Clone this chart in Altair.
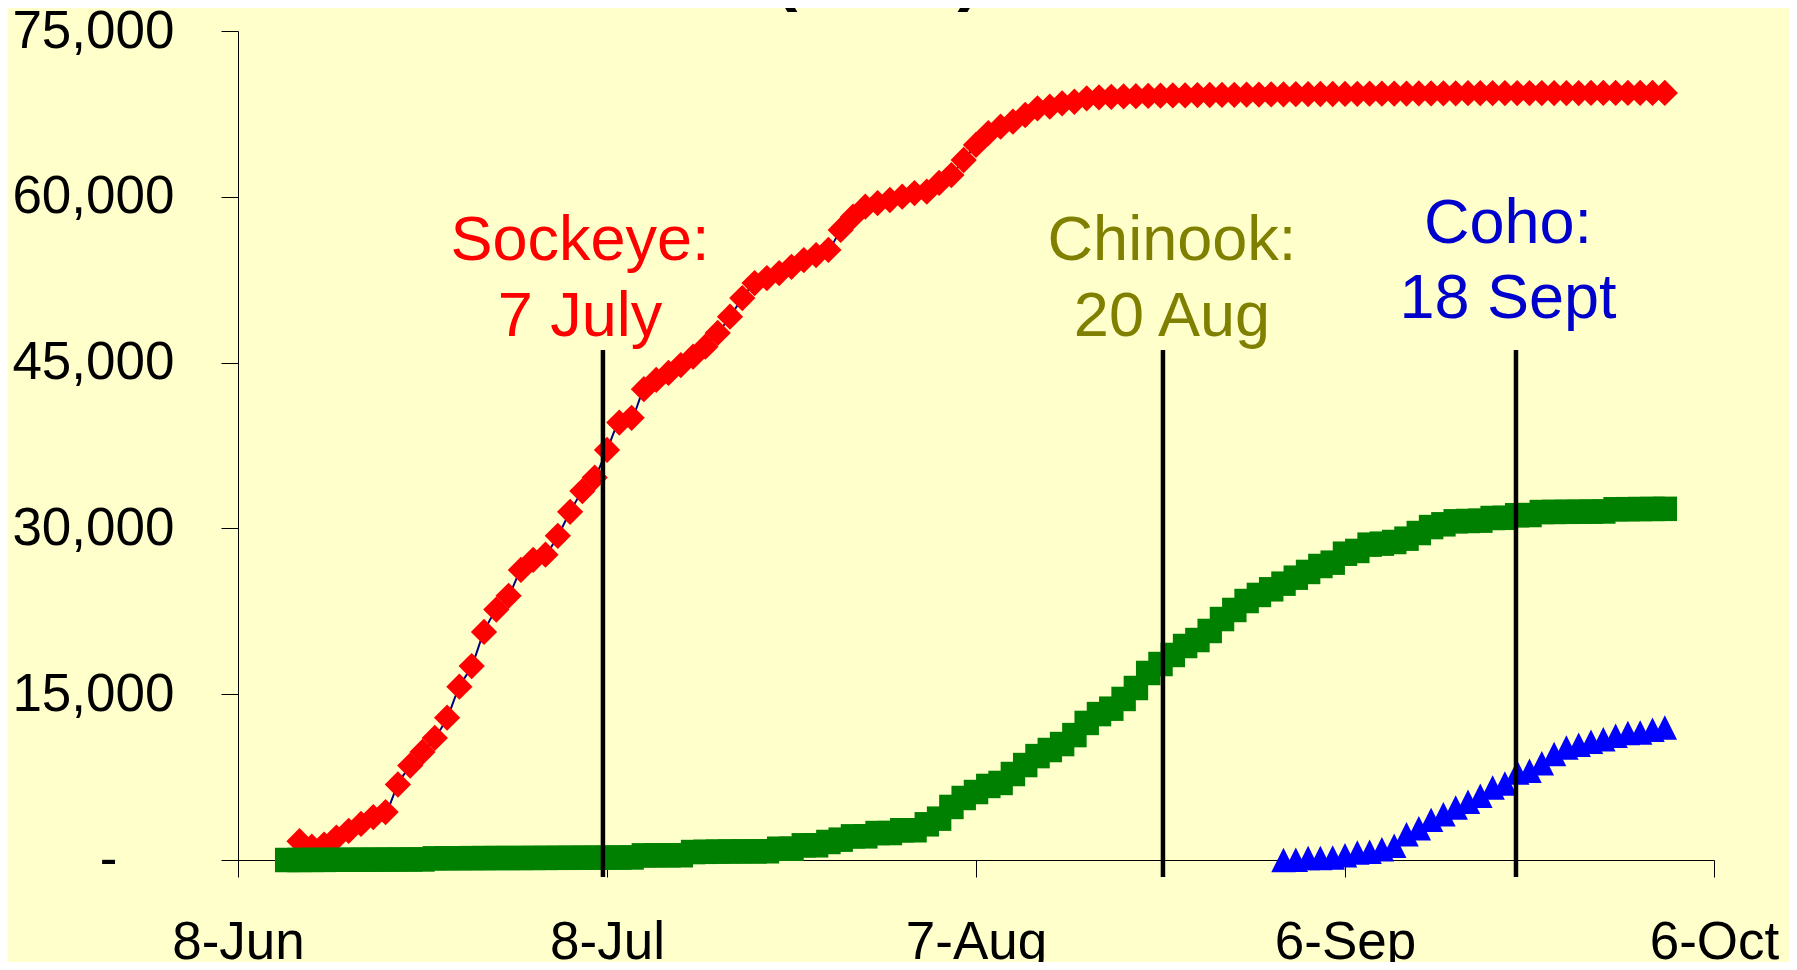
import altair as alt
import pandas as pd

# ---------------- data ----------------
BASE = pd.Timestamp("2004-06-08")          # first x tick (8-Jun)

def iso(day):
    return (BASE + pd.to_timedelta(day, unit="D")).strftime("%Y-%m-%dT%H:%M:%SZ")

y_ticks = [0, 15000, 30000, 45000, 60000, 75000]

sockeye_start = 5   # 13-Jun
sockeye = [1700, 1200, 1400, 2030, 2640, 3260, 3880, 4340, 6830, 8540,
           9770, 11040, 12880, 15680, 17550, 20630, 22660, 23900, 26240, 27160,
           27620, 29330, 31500, 33380, 34600, 37100, 39570, 40000, 42600, 43430,
           44060, 44780, 45540, 46440, 47680, 49150, 50840, 52200, 52650, 53100,
           53670, 54280, 54730, 55190, 57000, 58200, 59110, 59430, 59710, 60010,
           60340, 60460, 61250, 61970, 63330, 64690, 65770, 66340, 66800, 67400,
           68000, 68150, 68460, 68600, 68910,
           69000, 69050, 69080, 69100, 69130, 69150, 69170, 69180, 69200, 69210,
           69220, 69230, 69240, 69250, 69260, 69270, 69280, 69290, 69300, 69300,
           69310, 69320, 69330, 69330, 69340, 69340, 69350, 69350, 69360, 69360,
           69370, 69370, 69370, 69380, 69380, 69380, 69390, 69390, 69390, 69390,
           69400, 69400, 69400, 69400, 69400, 69400, 69400]

chinook_start = 4   # 12-Jun
chinook = [0, 0, 10, 10, 20, 20, 30, 30, 40, 40, 50, 50,
           150, 160, 160, 170, 170, 180, 180, 180, 190, 190, 200, 200, 210, 210, 220, 220, 230,
           420, 420, 430, 430,
           720, 740, 760, 770, 780, 780, 790,
           1020, 1020, 1330, 1330, 1630, 1840, 2140, 2140, 2440, 2440,
           2690, 2690, 3230, 3740, 4800, 5610, 6150, 6700, 6970, 7780,
           8590, 9400, 9950, 10490, 11300, 12400, 13200, 13690, 14570, 15560,
           16920, 17730, 18550, 19360, 19900, 20720, 21800, 22620, 23430, 23980,
           24490, 25000, 25540, 26060, 26600, 26900, 27710, 27960, 28530, 28620,
           28770, 29070, 29580, 30120, 30370, 30640, 30670, 30700, 30940, 30960,
           31190, 31210, 31480, 31490, 31500, 31510, 31520, 31530, 31730, 31740,
           31750, 31760, 31770]

coho_start = 85     # 1-Sep
coho = [0, 20, 170, 170, 230, 440, 680, 740, 980, 1280,
        2340, 2880, 3630, 4150, 4750, 5260, 5810, 6560, 6920, 7920,
        8070, 8760, 9580, 10180, 10420, 10690, 10930, 11240, 11480, 11540,
        11780, 11990]

# median-date marker lines (as drawn) and their labels
line_days = [29.67, 75.2, 103.9]
line_top = 46140
line_bottom = -1540

label_text = ["Sockeye:", "7 July", "Chinook:", "20 Aug", "Coho:", "18 Sept"]
label_day = [27.8, 27.8, 75.93, 75.93, 103.25, 103.25]
label_val = [54284, 47408, 54284, 47408, 55822, 49036]
label_color = ["#FF0000", "#FF0000", "#808000", "#808000", "#0000CC", "#0000CC"]

zero_label = "-"
title_text = "(2004)"

# ---------------- tables ----------------
def series(name, start, vals):
    return pd.DataFrame({"species": name,
                         "date": [iso(start + i) for i in range(len(vals))],
                         "fish": vals})

sock_df = series("Sockeye", sockeye_start, sockeye)
chin_df = series("Chinook", chinook_start, chinook)
coho_df = series("Coho", coho_start, coho)
lines_df = pd.DataFrame({"date": [iso(d) for d in line_days],
                         "top": line_top, "bottom": line_bottom})
labels_df = pd.DataFrame({"date": [iso(d) for d in label_day],
                          "val": label_val, "text": label_text, "color": label_color})

FONT = "Liberation Sans"

x_scale = alt.Scale(type="utc",
                    domain=[alt.DateTime(year=2004, month=6, date=8, utc=True),
                            alt.DateTime(year=2004, month=10, date=6, utc=True)])
x_axis = alt.Axis(
    values=[alt.DateTime(year=2004, month=m, date=d, utc=True)
            for (m, d) in [(6, 8), (7, 8), (8, 7), (9, 6), (10, 6)]],
    labelExpr="utcFormat(datum.value, '%-d-%b')",
    title=None, grid=False, tickSize=17, tickColor="black", tickWidth=1,
    domainColor="black", domainWidth=1, labelFont=FONT, labelFontSize=53,
    labelColor="black", labelPadding=81, labelBaseline="alphabetic",
    labelFlush=False, labelOverlap=False, labelAlign="center")
y_scale = alt.Scale(domain=[0, 75000], nice=False, zero=False)
y_axis = alt.Axis(
    values=y_ticks,
    labelExpr="datum.value == 0 ? '' : format(datum.value, ',')",
    title=None, grid=False, tickSize=17, tickColor="black", tickWidth=1,
    domainColor="black", domainWidth=1, labelFont=FONT, labelFontSize=53,
    labelColor="black", labelPadding=47, labelOverlap=False, labelFlush=False)

X = alt.X("date:T", scale=x_scale, axis=x_axis)

smooth = alt.Chart(sock_df).mark_line(color="#000080", strokeWidth=2,
                                      interpolate="monotone").encode(
    x=X, y=alt.Y("fish:Q", scale=y_scale, axis=y_axis))

sock_pts = alt.Chart(sock_df).mark_point(shape="diamond", filled=True, size=690,
                                         color="#FF0000", opacity=1).encode(
    x=X, y=alt.Y("fish:Q", scale=y_scale, axis=y_axis))

chin_pts = alt.Chart(chin_df).mark_point(shape="square", filled=True, size=600,
                                         color="#008000", opacity=1).encode(
    x=X, y=alt.Y("fish:Q", scale=y_scale, axis=y_axis))

coho_pts = alt.Chart(coho_df).mark_point(shape="M0,-1L1,1L-1,1Z", filled=True, size=600,
                                         color="#0000FF", opacity=1).encode(
    x=X, y=alt.Y("fish:Q", scale=y_scale, axis=y_axis))

rules = alt.Chart(lines_df).mark_rule(color="black", strokeWidth=4.5).encode(
    x=X, y=alt.Y("top:Q", scale=y_scale, axis=y_axis), y2="bottom:Q")

labels = alt.Chart(labels_df).mark_text(font=FONT, fontSize=63, align="center",
                                        baseline="alphabetic").encode(
    x=X, y=alt.Y("val:Q", scale=y_scale, axis=y_axis),
    text="text:N", color=alt.Color("color:N", scale=None))

# accounting-style "-" for the zero tick, set off from the axis like Excel does
zero = alt.Chart(pd.DataFrame({"t": [zero_label], "v": [0]})).mark_text(
    font=FONT, fontSize=53, align="right", baseline="middle", color="black").encode(
    text="t:N", y=alt.Y("v:Q", scale=y_scale, axis=y_axis), x=alt.value(-120.5))

title = alt.Chart(pd.DataFrame({"t": [title_text]})).mark_text(
    font=FONT, fontSize=72, fontWeight="bold", align="center", baseline="alphabetic",
    color="black").encode(
    text="t:N", x=alt.value(639.5), y=alt.value(-34))

chart = alt.layer(smooth, sock_pts, chin_pts, coho_pts, rules, labels, zero, title).properties(
    width=1476, height=829,
    autosize=alt.AutoSizeParams(type="none"),
    padding={"left": 230, "top": 23, "right": 75, "bottom": 102},
    background="#FFFFCC",
).configure_view(stroke=None)

chart.save("out.html", embed_options={"renderer": "svg", "actions": False})
